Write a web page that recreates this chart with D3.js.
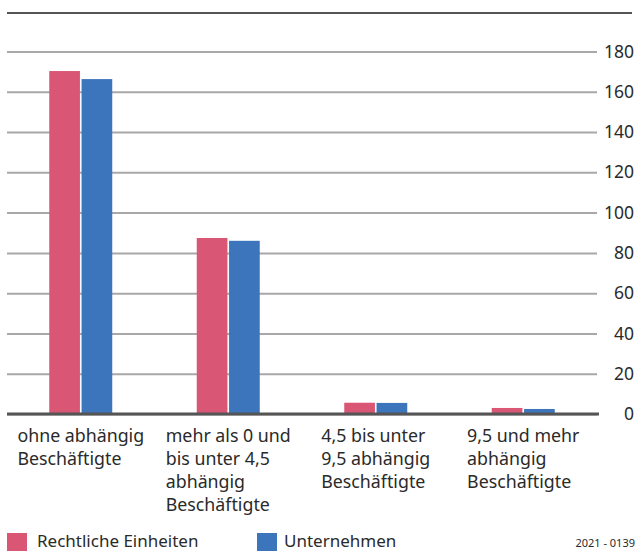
<!DOCTYPE html>
<meta charset="utf-8">
<html>
<head>
<script src="https://d3js.org/d3.v7.min.js"></script>
<style>
    body { margin: 0; background: #fff; font-family: "Noto Sans", sans-serif; }
    svg text { fill: #2a2a2a; }
</style>
</head>
<body>
<svg id="chart" width="641" height="551"></svg>
<script>

var categories = [
    ["ohne abhängig", "Beschäftigte"],
    ["mehr als 0 und", "bis unter 4,5", "abhängig", "Beschäftigte"],
    ["4,5 bis unter", "9,5 abhängig", "Beschäftigte"],
    ["9,5 und mehr", "abhängig", "Beschäftigte"]
]
var seriesNames = ["Rechtliche Einheiten", "Unternehmen"]
var rechtlicheEinheiten = [170.3, 87.4, 5.6, 3.0]
var unternehmen = [166.3, 86.0, 5.5, 2.5]
var yTicks = [0, 20, 40, 60, 80, 100, 120, 140, 160, 180]
var sourceNote = "2021 - 0139"

var colors = ["#d95775", "#3c75bb"]
var svg = d3.select("#chart")

var x = d3.scaleBand()
    .domain(d3.range(categories.length))
    .range([7, 597])
var x1 = d3.scaleBand()
    .domain(d3.range(seriesNames.length))
    .range([0, 63])
    .paddingInner(0.05)
var y = d3.scaleLinear()
    .domain([0, 180])
    .range([414, 51.5])

// top rule
svg.append("line")
    .attr("x1", 7).attr("x2", 632)
    .attr("y1", 13).attr("y2", 13)
    .attr("stroke", "#555").attr("stroke-width", 2)

// grid + labels
var yAxis = svg.append("g")
    .attr("transform", "translate(597,0)")
    .call(d3.axisRight(y).tickValues(yTicks).tickSize(-590).tickPadding(0))
yAxis.select(".domain").remove()
yAxis.selectAll(".tick line")
    .attr("stroke", "#a8a8a8").attr("stroke-width", 2)
yAxis.selectAll(".tick text")
    .attr("x", 37)
    .attr("text-anchor", "end")
    .attr("font-size", 17.5)
    .attr("font-family", "Noto Sans")
    .attr("fill", "#2a2a2a")

// bars
var data = categories.map((c, i) => [rechtlicheEinheiten[i], unternehmen[i]])
var groups = svg.append("g")
    .selectAll("g")
    .data(data)
    .join("g")
    .attr("transform", (d, i) => "translate(" + (x(i) + x.bandwidth() / 2 - 31.5) + ",0)")
groups.selectAll("rect")
    .data(d => d)
    .join("rect")
    .attr("x", (d, j) => x1(j))
    .attr("width", x1.bandwidth())
    .attr("y", d => y(d))
    .attr("height", d => y(0) - y(d))
    .attr("fill", (d, j) => colors[j])

// baseline
svg.append("line")
    .attr("x1", 7).attr("x2", 599)
    .attr("y1", y(0)).attr("y2", y(0))
    .attr("stroke", "#555").attr("stroke-width", 3)

// category labels, block centred on band, lines left aligned
categories.forEach(function(lines, i) {
    var g = svg.append("g")
    var t = g.append("text")
        .attr("font-size", 17.8)
    t.selectAll("tspan")
        .data(lines)
        .join("tspan")
        .attr("x", 0)
        .attr("y", (d, k) => 442 + k * 23)
        .text(d => d)
    var w = d3.max(t.selectAll("tspan").nodes(), n => n.getComputedTextLength())
    g.attr("transform", "translate(" + (x(i) + x.bandwidth() / 2 - w / 2) + ",0)")
})

// legend
var legend = svg.append("g")
    .selectAll("g")
    .data(seriesNames)
    .join("g")
    .attr("transform", (d, i) => "translate(" + (7 + i * 250) + ",533)")
legend.append("rect")
    .attr("width", 20).attr("height", 18)
    .attr("fill", (d, i) => colors[i])
legend.append("text")
    .attr("x", (d, i) => i ? 27 : 30)
    .attr("y", 14)
    .attr("font-size", 17)
    .text(d => d)

svg.append("text")
    .attr("x", 635).attr("y", 547)
    .attr("text-anchor", "end")
    .attr("font-size", 11)
    .text(sourceNote)
</script>
</body>
</html>
